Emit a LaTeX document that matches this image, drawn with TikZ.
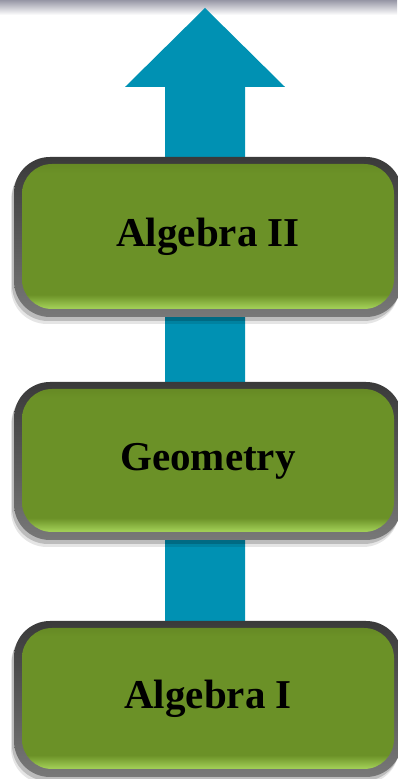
\documentclass[tikz,border=0pt]{standalone}
\usepackage{fontspec}
\setmainfont{Liberation Serif}
\usetikzlibrary{shadows}
\definecolor{arrowblue}{RGB}{0,145,179}
\definecolor{boxgreen}{RGB}{107,145,39}
\definecolor{boxgreendark}{RGB}{98,132,34}
\definecolor{boxhl}{RGB}{160,205,85}
\definecolor{bordertop}{RGB}{58,58,58}
\definecolor{borderbot}{RGB}{120,120,120}
\definecolor{bandgray}{RGB}{150,150,165}
\pgfdeclareverticalshading{greenshade}{100bp}{color(0bp)=(boxgreen); color(25bp)=(boxgreen); color(26.5bp)=(boxhl); color(28bp)=(boxhl); color(32bp)=(boxgreen); color(70bp)=(boxgreen); color(75bp)=(boxgreendark); color(100bp)=(boxgreendark)}
\pgfdeclareverticalshading{bordershade}{100bp}{color(0bp)=(borderbot); color(25bp)=(borderbot); color(75bp)=(bordertop); color(100bp)=(bordertop)}
\tikzset{
  stage/.style={rectangle, rounded corners=36pt, minimum width=388pt, inner sep=0pt,
    shading=bordershade,
    general shadow={shadow xshift=-3pt, shadow yshift=-7pt, fill=black, opacity=.1},
    general shadow={shadow xshift=-2pt, shadow yshift=-4pt, fill=black, opacity=.18},
    font=\fontsize{41}{44}\selectfont\bfseries, text=black,
    path picture={\shade[shading=greenshade, rounded corners=30pt]
      ([xshift=8pt,yshift=8pt]path picture bounding box.south west) rectangle
      ([xshift=-8pt,yshift=-7pt]path picture bounding box.north east);}},
  bigarrow/.style={fill=arrowblue, draw=none}
}
\begin{document}
\begin{tikzpicture}[x=1pt,y=1pt]
\useasboundingbox (0,0) rectangle (397,779);
\shade[top color=bandgray, bottom color=white] (0,764) rectangle (397,779);
\coordinate (tip) at (205,771);
\coordinate (base) at (205,139);
\fill[bigarrow] ([xshift=-40pt]base) -- ([xshift=-40pt]base |- 0,692) -- ([xshift=-80pt]tip |- 0,692) -- (tip)
  -- ([xshift=80pt]tip |- 0,692) -- ([xshift=40pt]base |- 0,692) -- ([xshift=40pt]base) -- cycle;
\node[stage, minimum height=160pt] (alg2) at (208,542) {Algebra II};
\node[stage, minimum height=158pt] (geo) at (208,318) {Geometry};
\node[stage, minimum height=156pt] (alg1) at (208,80) {Algebra I};
\end{tikzpicture}
\end{document}
